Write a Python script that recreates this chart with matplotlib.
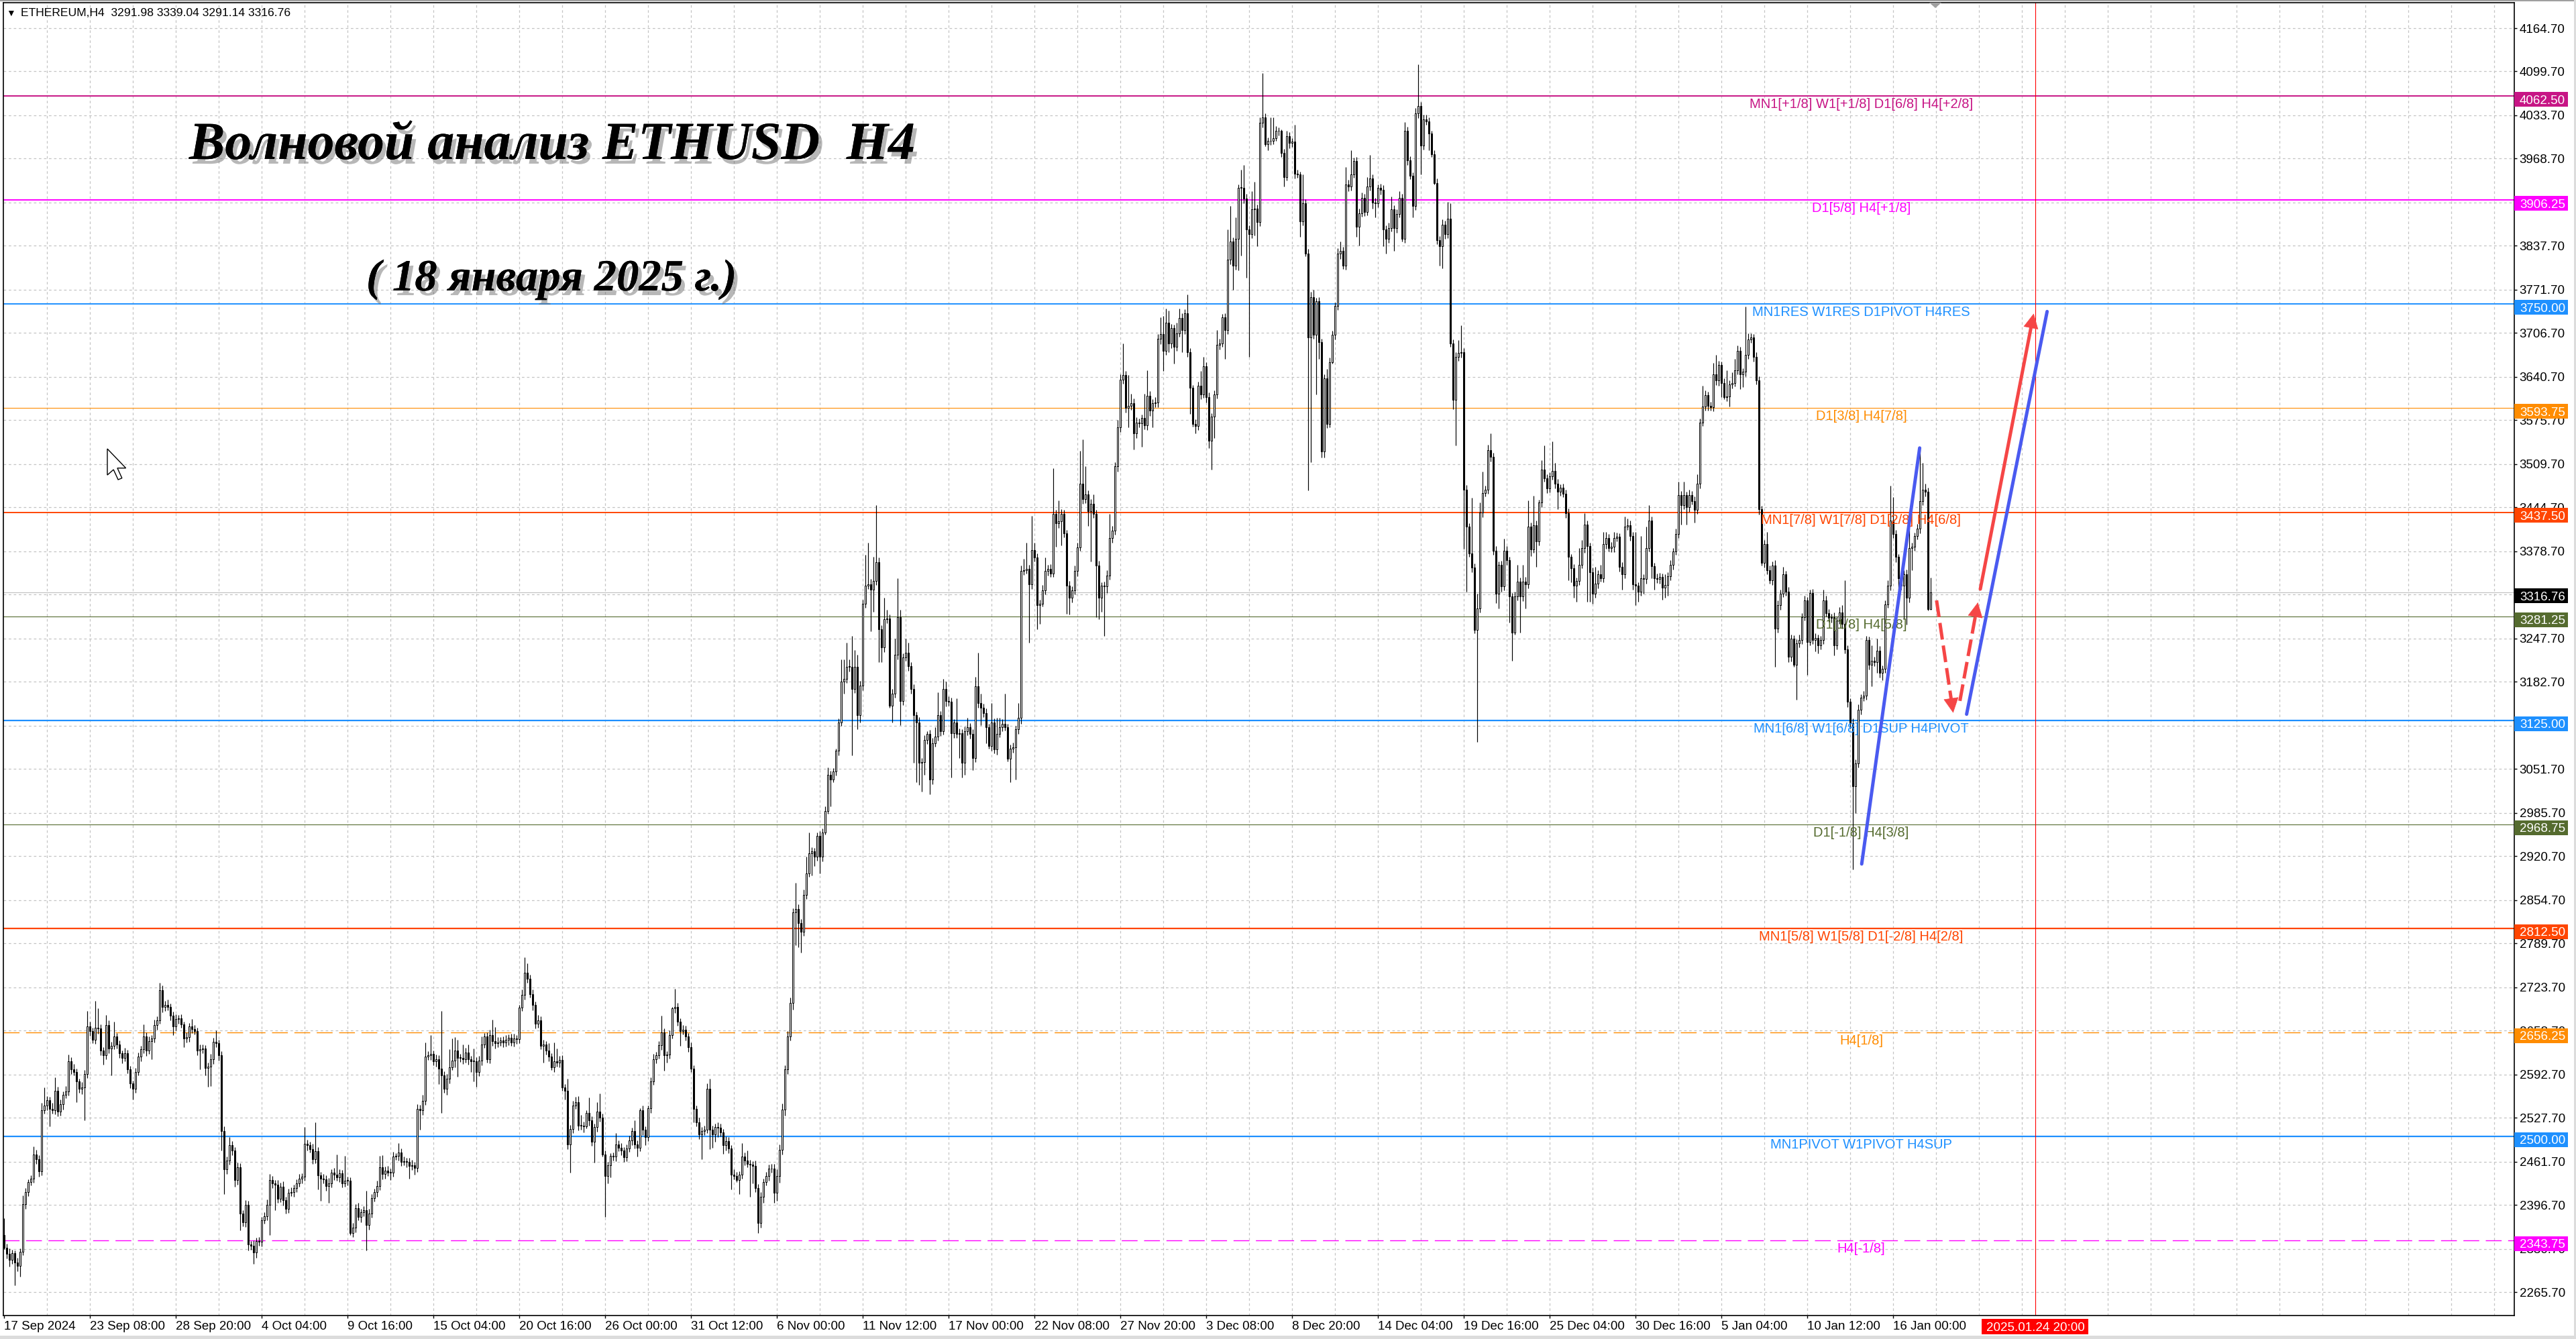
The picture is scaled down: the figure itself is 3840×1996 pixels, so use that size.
import numpy as np
import matplotlib
matplotlib.use('Agg')
import matplotlib.pyplot as plt
from matplotlib.patches import Rectangle, Polygon
from matplotlib import patheffects
from matplotlib.transforms import blended_transform_factory

plt.rcParams['font.family'] = ['Liberation Sans', 'DejaVu Sans']

# ETHEREUM H4 свечи: цена закрытия и длина теней (USD), 17 Sep 2024 - 18 Jan 2025
first_open = 2352
closes = [
    2332, 2323, 2314, 2324, 2310, 2305, 2326, 2398, 2416, 2431,
    2436, 2472, 2465, 2447, 2539, 2546, 2554, 2541, 2539, 2568,
    2537, 2548, 2562, 2567, 2613, 2600, 2596, 2582, 2571, 2573,
    2593, 2665, 2658, 2645, 2663, 2662, 2629, 2622, 2667, 2632,
    2636, 2650, 2638, 2625, 2618, 2625, 2600, 2579, 2571, 2596,
    2620, 2631, 2650, 2629, 2643, 2647, 2667, 2674, 2719, 2694,
    2697, 2694, 2681, 2665, 2676, 2677, 2668, 2647, 2649, 2665,
    2661, 2658, 2629, 2631, 2632, 2603, 2605, 2616, 2642, 2640,
    2622, 2508, 2450, 2463, 2487, 2479, 2434, 2453, 2384, 2371,
    2397, 2337, 2335, 2325, 2342, 2341, 2374, 2380, 2397, 2434,
    2429, 2427, 2406, 2424, 2404, 2391, 2415, 2416, 2422, 2429,
    2436, 2439, 2489, 2487, 2481, 2465, 2478, 2441, 2436, 2435,
    2425, 2429, 2445, 2442, 2438, 2444, 2429, 2433, 2433, 2355,
    2363, 2392, 2379, 2386, 2389, 2367, 2384, 2407, 2416, 2425,
    2453, 2443, 2448, 2445,
    2445, 2469, 2470, 2476, 2461, 2462, 2461, 2455, 2456, 2452,
    2541, 2539, 2553, 2620, 2622, 2624, 2613, 2616, 2601, 2591,
    2571, 2586, 2604, 2614, 2629, 2618, 2618, 2616, 2626, 2616,
    2613, 2613, 2596, 2614, 2638, 2650, 2616, 2652, 2643, 2640,
    2641, 2644, 2641, 2645, 2648, 2641, 2647, 2646, 2693, 2712,
    2746, 2737, 2713, 2697, 2669, 2674, 2636, 2638, 2629, 2620,
    2604, 2613, 2611, 2615, 2573, 2568, 2488, 2511, 2546, 2551,
    2516, 2516, 2515, 2535, 2524, 2492, 2514, 2537, 2528, 2472,
    2440, 2456, 2470, 2469, 2488, 2483, 2479, 2468, 2482, 2494,
    2508, 2488, 2483, 2539, 2510, 2499, 2542, 2582, 2616, 2622,
    2637, 2656, 2622, 2623, 2652, 2692, 2694, 2672, 2658, 2660,
    2650, 2634, 2601, 2541, 2521, 2503, 2508, 2510, 2571, 2510,
    2503, 2514, 2513, 2506, 2487, 2493, 2482, 2442, 2440, 2434,
    2442, 2469, 2463, 2458, 2457, 2455, 2422, 2370, 2409, 2431,
    2440, 2451, 2451, 2415,
    2440, 2480, 2540, 2600, 2650, 2700, 2836, 2841, 2820, 2807,
    2863, 2895, 2925, 2928, 2920, 2951, 2920, 2956, 2989, 3043,
    3036, 3048, 3079, 3122, 3183, 3187, 3205, 3205, 3172, 3205,
    3133, 3177, 3300, 3327, 3329, 3321, 3334, 3362, 3262, 3234,
    3277, 3278, 3147, 3165, 3223, 3280, 3154, 3219, 3226, 3206,
    3172, 3133, 3122, 3061, 3062, 3095, 3104, 3036, 3090, 3100,
    3133, 3108, 3172, 3154, 3153, 3105, 3122, 3104, 3105, 3061,
    3108, 3115, 3104, 3068, 3176, 3151, 3144, 3136, 3115, 3086,
    3122, 3081, 3104, 3115, 3120, 3115, 3067, 3082, 3084, 3111,
    3129, 3349, 3350, 3352, 3329, 3381, 3369, 3298, 3300, 3320,
    3349, 3352, 3345, 3435, 3421, 3424, 3435, 3406, 3327, 3309,
    3320, 3349, 3385, 3480, 3457, 3464, 3439, 3450, 3435, 3357,
    3309, 3327, 3326, 3342, 3399, 3410, 3507, 3565, 3637, 3644,
    3594, 3597, 3601, 3556, 3572, 3571, 3579, 3568, 3612, 3590,
    3601, 3602, 3698, 3705,
    3680, 3722, 3691, 3714, 3686, 3706, 3729, 3711, 3736, 3678,
    3624, 3570, 3567, 3628, 3614, 3657, 3610, 3545, 3581, 3614,
    3689, 3691, 3730, 3711, 3817, 3844, 3808, 3848, 3925, 3925,
    3909, 3862, 3855, 3893, 3894, 3873, 4023, 4031, 3990, 3995,
    3995, 3999, 4011, 4010, 3977, 3941, 4002, 3992, 3994, 3946,
    3945, 3874, 3902, 3826, 3700, 3761, 3704, 3754, 3693, 3529,
    3639, 3570, 3663, 3704, 3747, 3826, 3830, 3808, 3930, 3927,
    3945, 3965, 3866, 3887, 3910, 3889, 3927, 3939, 3903, 3902,
    3925, 3922, 3862, 3848, 3864, 3893, 3864, 3886, 3910, 3848,
    4010, 3966, 3943, 3898, 4037, 4048, 3988, 4028, 4025, 4006,
    3975, 3932, 3846, 3837, 3869, 3855, 3878, 3691, 3606, 3671,
    3677, 3678, 3471, 3416, 3376, 3354, 3261, 3293, 3437, 3466,
    3471, 3531, 3521, 3380, 3315, 3358, 3326, 3380, 3365, 3311,
    3257, 3311, 3333, 3311, 3333, 3329, 3416, 3382, 3418, 3394,
    3452, 3502, 3488, 3473,
    3491, 3500, 3480, 3468, 3474, 3465, 3436, 3370, 3353, 3327,
    3334, 3358, 3384, 3419, 3387, 3347, 3315, 3330, 3344, 3338,
    3390, 3399, 3384, 3386, 3399, 3401, 3355, 3344, 3416, 3418,
    3402, 3329, 3327, 3318, 3338, 3337, 3384, 3425, 3356, 3338,
    3337, 3340, 3324, 3328, 3341, 3358, 3379, 3405, 3463, 3448,
    3463, 3445, 3463, 3454, 3441, 3480, 3572, 3596, 3613, 3597,
    3595, 3645, 3636, 3659, 3632, 3610, 3611, 3630, 3632, 3651,
    3680, 3645, 3649, 3674, 3697, 3700, 3671, 3636, 3442, 3361,
    3390, 3350, 3335, 3357, 3263, 3298, 3315, 3344, 3318, 3220,
    3248, 3208, 3240, 3246, 3280, 3305, 3243, 3316, 3246, 3249,
    3237, 3246, 3305, 3286, 3279, 3280, 3237, 3275, 3287, 3270,
    3231, 3153, 3121, 3026, 3060, 3141, 3159, 3162, 3246, 3208,
    3214, 3212, 3229, 3196, 3202, 3299, 3327, 3425, 3405, 3370,
    3338, 3327, 3344, 3309, 3384, 3386, 3402, 3413, 3454, 3471,
    3468, 3291.98, 3316.76,
]
up_wick = [
    25, 6, 8, 5, 4, 7, 5, 13, 6, 4,
    5, 13, 8, 6, 11, 27, 6, 5, 9, 20,
    6, 7, 5, 8, 10, 6, 9, 5, 4, 8,
    6, 23, 7, 5, 40, 29, 6, 5, 15, 7,
    6, 22, 5, 6, 4, 8, 5, 6, 4, 7,
    6, 5, 18, 6, 7, 5, 8, 6, 11, 7,
    6, 8, 5, 6, 7, 5, 6, 4, 7, 5,
    11, 6, 5, 7, 6, 5, 6, 8, 6, 17,
    5, 6, 7, 6, 12, 6, 5, 7, 6, 5,
    7, 6, 5, 8, 6, 7, 5, 6, 8, 9,
    6, 5, 7, 6, 8, 5, 6, 7, 5, 6,
    7, 5, 25, 6, 5, 8, 43, 6, 5, 7,
    6, 8, 5, 7, 30, 6, 5, 37, 6, 5,
    7, 6, 8, 5, 6, 29, 7, 6, 5, 8,
    17, 18, 6, 7,
    6, 8, 5, 14, 6, 7, 5, 6, 8, 5,
    7, 6, 9, 21, 6, 28, 5, 7, 6, 87,
    6, 7, 27, 33, 20, 16, 6, 20, 7, 12,
    5, 19, 6, 7, 12, 5, 6, 8, 23, 21,
    8, 5, 6, 7, 5, 6, 7, 5, 4, 8,
    23, 14, 6, 7, 5, 8, 6, 7, 5, 11,
    5, 28, 19, 6, 7, 5, 18, 6, 7, 8,
    9, 16, 6, 4, 23, 6, 5, 14, 27, 6,
    7, 5, 5, 6, 17, 6, 7, 5, 6, 7,
    5, 16, 6, 3, 7, 5, 4, 6, 8, 5,
    6, 25, 6, 5, 7, 2, 27, 6, 5, 7,
    6, 5, 7, 6, 5, 7, 6, 6, 8, 15,
    6, 5, 7, 6, 5, 7, 6, 5, 8, 6,
    5, 21, 7, 16, 6, 5, 8, 6, 7, 5,
    6, 6, 7, 7,
    10, 8, 9, 7, 8, 8, 6, 40, 7, 6,
    8, 25, 31, 6, 5, 5, 7, 6, 7, 11,
    6, 5, 3, 6, 33, 29, 36, 11, 47, 25,
    18, 7, 6, 47, 63, 8, 36, 86, 7, 6,
    32, 13, 6, 7, 25, 58, 11, 6, 22, 15,
    6, 7, 5, 8, 6, 7, 4, 6, 8, 15,
    34, 6, 15, 11, 7, 6, 5, 36, 7, 6,
    8, 14, 6, 7, 14, 50, 14, 6, 7, 5,
    29, 6, 25, 14, 7, 45, 5, 6, 7, 6,
    22, 8, 17, 40, 6, 51, 11, 7, 6, 8,
    20, 6, 7, 69, 6, 31, 7, 6, 5, 7,
    6, 8, 7, 50, 67, 43, 6, 7, 14, 6,
    7, 5, 6, 8, 36, 7, 6, 11, 8, 47,
    6, 47, 14, 7, 8, 6, 5, 36, 39, 7,
    6, 8, 7, 25,
    27, 21, 18, 6, 5, 16, 14, 7, 6, 29,
    6, 5, 7, 6, 22, 14, 6, 7, 5, 6,
    22, 7, 5, 6, 45, 54, 6, 32, 5, 27,
    34, 7, 6, 27, 40, 6, 8, 66, 6, 5,
    36, 32, 7, 5, 3, 6, 8, 6, 5, 26,
    6, 4, 43, 6, 7, 8, 11, 6, 7, 5,
    6, 14, 7, 6, 5, 8, 14, 6, 26, 7,
    36, 5, 6, 7, 8, 6, 14, 35, 6, 7,
    5, 6, 7, 6, 8, 19, 6, 7, 10, 6,
    14, 7, 6, 5, 8, 62, 6, 7, 7, 6,
    5, 6, 7, 6, 8, 6, 26, 24, 6, 7,
    19, 40, 6, 7, 5, 83, 6, 22, 15, 32,
    6, 8, 25, 6, 7, 5, 6, 18, 7, 6,
    5, 7, 25, 6, 25, 7, 39, 6, 44, 7,
    4, 14, 36, 6,
    6, 44, 12, 7, 5, 6, 6, 7, 5, 6,
    5, 26, 12, 17, 6, 5, 7, 25, 6, 14,
    18, 9, 6, 7, 9, 6, 5, 7, 15, 10,
    7, 6, 79, 5, 64, 6, 32, 23, 6, 5,
    7, 6, 5, 16, 6, 7, 5, 8, 20, 6,
    20, 5, 8, 6, 7, 14, 6, 32, 7, 5,
    6, 17, 29, 6, 5, 7, 40, 6, 16, 17,
    8, 6, 5, 72, 9, 6, 5, 7, 6, 5,
    6, 18, 7, 6, 8, 7, 6, 11, 5, 7,
    6, 5, 7, 8, 6, 7, 5, 5, 6, 7,
    5, 6, 16, 7, 6, 5, 7, 6, 8, 11,
    65, 6, 5, 7, 6, 8, 5, 7, 6, 5,
    23, 6, 19, 7, 5, 6, 8, 52, 35, 6,
    5, 7, 6, 7, 29, 6, 5, 7, 81, 41,
    9, 6, 22.28,
]
dn_wick = [
    2, 7, 10, 6, 34, 8, 16, 5, 7, 6,
    5, 6, 7, 8, 6, 5, 7, 26, 5, 6,
    7, 6, 8, 5, 6, 7, 5, 31, 6, 8,
    49, 6, 7, 5, 6, 8, 7, 14, 6, 7,
    41, 5, 6, 7, 8, 5, 6, 7, 16, 6,
    5, 7, 6, 8, 5, 27, 6, 7, 5, 8,
    6, 5, 7, 13, 6, 7, 5, 13, 6, 7,
    6, 5, 7, 29, 6, 12, 29, 30, 7, 6,
    8, 29, 37, 7, 6, 8, 10, 7, 25, 6,
    7, 9, 6, 17, 8, 6, 7, 5, 6, 45,
    7, 38, 6, 5, 8, 7, 6, 5, 7, 6,
    5, 7, 6, 8, 5, 7, 6, 21, 33, 6,
    7, 25, 6, 8, 5, 7, 6, 5, 7, 3,
    6, 7, 5, 8, 6, 39, 7, 6, 5, 7,
    6, 8, 7, 5,
    11, 6, 5, 7, 6, 5, 8, 19, 6, 10,
    6, 29, 7, 6, 5, 7, 6, 8, 23, 56,
    6, 9, 7, 5, 10, 29, 6, 7, 5, 8,
    17, 31, 22, 6, 7, 5, 5, 6, 7, 8,
    6, 5, 7, 6, 8, 5, 6, 7, 6, 5,
    7, 6, 5, 8, 7, 6, 5, 25, 6, 7,
    5, 8, 6, 7, 5, 13, 7, 43, 6, 5,
    7, 6, 9, 3, 8, 6, 32, 7, 6, 3,
    61, 11, 18, 6, 7, 5, 8, 7, 6, 5,
    7, 6, 14, 5, 8, 12, 6, 7, 5, 6,
    5, 7, 24, 11, 6, 5, 7, 6, 22, 5,
    6, 7, 5, 20, 6, 7, 38, 6, 5, 29,
    20, 11, 14, 6, 13, 8, 7, 22, 5, 3,
    21, 6, 7, 5, 48, 26, 6, 15, 7, 9,
    5, 7, 6, 15,
    12, 10, 8, 9, 7, 6, 10, 49, 36, 31,
    6, 7, 5, 33, 14, 6, 25, 7, 3, 5,
    40, 4, 6, 7, 5, 18, 6, 7, 100, 6,
    22, 11, 7, 6, 5, 62, 33, 6, 50, 22,
    7, 6, 3, 25, 6, 7, 36, 6, 5, 7,
    7, 72, 90, 33, 43, 19, 6, 22, 7, 5,
    6, 7, 5, 8, 6, 66, 7, 6, 36, 22,
    18, 6, 7, 18, 6, 7, 26, 6, 25, 4,
    7, 6, 8, 5, 7, 6, 4, 35, 6, 48,
    7, 9, 6, 5, 88, 7, 6, 36, 28, 4,
    6, 7, 5, 5, 35, 7, 36, 6, 42, 25,
    7, 6, 8, 5, 7, 6, 22, 76, 6, 77,
    32, 21, 74, 10, 6, 7, 6, 8, 7, 6,
    7, 29, 6, 24, 7, 6, 35, 6, 7, 8,
    25, 6, 7, 8,
    30, 6, 13, 7, 25, 6, 5, 33, 6, 7,
    39, 4, 11, 6, 7, 5, 8, 11, 43, 32,
    6, 7, 5, 43, 6, 7, 36, 6, 47, 102,
    7, 72, 184, 6, 40, 36, 6, 7, 3, 9,
    6, 5, 4, 7, 6, 14, 5, 8, 6, 7,
    5, 23, 6, 4, 230, 187, 6, 90, 25, 9,
    9, 6, 5, 2, 7, 6, 8, 5, 6, 7,
    6, 5, 15, 28, 6, 7, 5, 6, 9, 22,
    6, 7, 25, 22, 6, 5, 34, 7, 6, 4,
    6, 7, 5, 18, 6, 7, 43, 6, 5, 25,
    4, 2, 6, 29, 33, 7, 6, 5, 14, 68,
    6, 7, 88, 98, 6, 7, 5, 169, 6, 7,
    5, 6, 7, 6, 14, 22, 8, 6, 7, 39,
    43, 3, 6, 54, 7, 36, 6, 10, 5, 39,
    6, 7, 5, 7,
    6, 5, 7, 26, 6, 5, 7, 35, 21, 18,
    24, 6, 5, 7, 84, 44, 15, 6, 7, 5,
    6, 7, 5, 6, 8, 5, 7, 23, 6, 5,
    7, 8, 29, 15, 6, 22, 7, 5, 18, 17,
    6, 7, 18, 15, 16, 6, 7, 5, 6, 29,
    6, 26, 7, 5, 19, 6, 7, 5, 6, 7,
    5, 6, 7, 8, 22, 3, 6, 15, 7, 5,
    6, 23, 20, 7, 6, 5, 7, 6, 8, 4,
    7, 6, 5, 7, 58, 6, 7, 5, 6, 8,
    7, 3, 52, 6, 7, 5, 50, 6, 7, 18,
    12, 6, 7, 5, 6, 7, 15, 6, 5, 7,
    6, 8, 9, 125, 41, 6, 7, 5, 6, 7,
    32, 6, 16, 7, 11, 6, 5, 7, 6, 8,
    17, 6, 50, 40, 7, 34, 6, 5, 7, 6,
    7, 2, 0.84,
]

time_labels = ['17 Sep 2024', '23 Sep 08:00', '28 Sep 20:00', '4 Oct 04:00', '9 Oct 16:00',
               '15 Oct 04:00', '20 Oct 16:00', '26 Oct 00:00', '31 Oct 12:00', '6 Nov 00:00',
               '11 Nov 12:00', '17 Nov 00:00', '22 Nov 08:00', '27 Nov 20:00', '3 Dec 08:00',
               '8 Dec 20:00', '14 Dec 04:00', '19 Dec 16:00', '25 Dec 04:00', '30 Dec 16:00',
               '5 Jan 04:00', '10 Jan 12:00', '16 Jan 00:00']
bars_per_label = 32
future_bar = 757
future_label = '2025.01.24 20:00'

price_ticks = [4164.70, 4099.70, 4033.70, 3968.70, 3902.70, 3837.70, 3771.70, 3706.70,
               3640.70, 3575.70, 3509.70, 3444.70, 3378.70, 3313.70, 3247.70, 3182.70,
               3116.70, 3051.70, 2985.70, 2920.70, 2854.70, 2789.70, 2723.70, 2658.70,
               2592.70, 2527.70, 2461.70, 2396.70, 2330.70, 2265.70]

# уровни Мюррея
level_prices = [4062.50, 3906.25, 3750.00, 3593.75, 3437.50, 3281.25,
                3125.00, 2968.75, 2812.50, 2656.25, 2500.00, 2343.75]
level_texts = ['MN1[+1/8] W1[+1/8] D1[6/8] H4[+2/8]', 'D1[5/8] H4[+1/8]',
               'MN1RES W1RES D1PIVOT H4RES', 'D1[3/8] H4[7/8]',
               'MN1[7/8] W1[7/8] D1[2/8] H4[6/8]', 'D1[1/8] H4[5/8]',
               'MN1[6/8] W1[6/8] D1SUP H4PIVOT', 'D1[-1/8] H4[3/8]',
               'MN1[5/8] W1[5/8] D1[-2/8] H4[2/8]', 'H4[1/8]',
               'MN1PIVOT W1PIVOT H4SUP', 'H4[-1/8]']
level_colors = ['#C71585', '#FF00FF', '#1E90FF', '#FF8C00', '#FF4500', '#556B2F',
                '#1E90FF', '#556B2F', '#FF4500', '#FF8C00', '#1E90FF', '#FF00FF']
level_lw = [1.4, 1.4, 1.4, 0.8, 1.4, 0.8, 1.6, 0.8, 1.6, 1.0, 1.6, 1.0]
level_dashed = [False] * 9 + [True, False, True]
label_bar = 692.1

# разметка волн
blue1_x, blue1_y = [692.3, 713.9], [2909, 3534]
blue2_x, blue2_y = [731.4, 761.4], [3134, 3739]
red_down_x, red_down_y = [720.2, 726.4], [3305, 3136]
red_up_x, red_up_y = [728.9, 735.6], [3154, 3302]
red_main_x, red_main_y = [736.5, 756.4], [3322, 3736]

n = min(len(closes), len(up_wick), len(dn_wick))
c = np.array(closes[:n], dtype=float)
o = np.concatenate([[first_open], c[:-1]])
top = np.maximum(o, c)
bot = np.minimum(o, c)
hi = top + np.array(up_wick[:n], dtype=float)
lo = bot - np.array(dn_wick[:n], dtype=float)
x = np.arange(n)

W, H = 3840, 1996
fig = plt.figure(figsize=(W / 100, H / 100), dpi=100)
ax = fig.add_axes([5 / W, 1 - 1961 / H, (3748 - 5) / W, (1961 - 4) / H])
ax.set_xlim(-0.25, 935.5)
ax.set_ylim(2230.6, 4203.0)

grid_kw = dict(color='#C4C4C4', lw=0.9, ls=(0, (3, 3)), zorder=0)
for p in price_ticks:
    ax.axhline(p, **grid_kw)
for g in range(16, 936, 16):
    ax.axvline(g, **grid_kw)

for p, col, lw, dsh in zip(level_prices, level_colors, level_lw, level_dashed):
    ax.axhline(p, color=col, lw=lw, ls=(0, (17, 7)) if dsh else '-', zorder=1)
ax.axhline(c[-1], color='#C0C0C0', lw=0.8, zorder=1)
ax.axvline(future_bar, color='#FF0000', lw=0.8, zorder=1)

# свечи
ax.vlines(x, lo, hi, color='black', lw=0.85, zorder=3)
bull = c >= o
ax.bar(x, np.maximum(top - bot, 0.8), bottom=bot, width=0.72,
       color=np.where(bull, 'white', 'black'), edgecolor='black', linewidth=0.75, zorder=4)

for p, txt, col in zip(level_prices, level_texts, level_colors):
    ax.text(label_bar, p - 3, txt, color=col, fontsize=14.5, ha='center', va='top', zorder=5)

# волновая разметка
ax.plot(blue1_x, blue1_y, color='#4A5AF0', lw=3.6, solid_capstyle='round', zorder=6)
ax.plot(blue2_x, blue2_y, color='#4A5AF0', lw=3.6, solid_capstyle='round', zorder=6)
red = '#F54646'
for xs, ys, dashed in [(red_down_x, red_down_y, True), (red_up_x, red_up_y, True),
                       (red_main_x, red_main_y, False)]:
    dx, dy = xs[1] - xs[0], ys[1] - ys[0]
    ln = np.hypot(dx * 4.0, dy * 0.9922)
    k = 16.0 / ln
    ax.plot([xs[0], xs[1] - dx * k], [ys[0], ys[1] - dy * k], color=red, lw=3.6,
            ls=(0, (5, 1.8)) if dashed else '-', solid_capstyle='round',
            dash_capstyle='butt', zorder=6)
    ax.annotate('', xy=(xs[1], ys[1]), xytext=(xs[1] - dx * k * 1.6, ys[1] - dy * k * 1.6),
                arrowprops=dict(arrowstyle='-|>,head_length=0.75,head_width=0.38',
                                mutation_scale=20, color=red, lw=0.5, shrinkA=0, shrinkB=0),
                zorder=7)

# оси
for s in ax.spines.values():
    s.set_color('black')
    s.set_linewidth(1.2)
ax.yaxis.tick_right()
ax.set_yticks(price_ticks)
ax.set_yticklabels([f'{p:.2f}' for p in price_ticks])
ax.set_xticks([k * bars_per_label for k in range(len(time_labels))])
ax.set_xticklabels(time_labels, ha='left')
ax.tick_params(axis='both', direction='out', length=3, width=1, pad=2.5,
               labelsize=13.5, colors='black')

trans = blended_transform_factory(ax.transAxes, ax.transData)
box_w = 80 / 3743
for p, col in list(zip(level_prices, level_colors)) + [(c[-1], 'black')]:
    yc = p - 5
    ax.add_patch(Rectangle((1.0, yc - 11.1), box_w, 22.2, transform=trans, facecolor=col,
                           edgecolor='none', clip_on=False, zorder=8))
    ax.text(1.0 + 8 / 3743, yc, f'{p:.2f}', transform=trans, color='white', fontsize=13.5,
            ha='left', va='center_baseline', clip_on=False, zorder=9)

transx = blended_transform_factory(ax.transData, ax.transAxes)
ax.add_patch(Rectangle((future_bar - 19.9, -0.0141), 39.75, 0.0118, transform=transx,
                       facecolor='#FF0000', edgecolor='none', clip_on=False, zorder=8))
ax.text(future_bar, -0.0082, future_label, transform=transx, color='white', fontsize=13.5,
        ha='center', va='center_baseline', clip_on=False, zorder=9)

# заголовок окна
fig.text(9 / W, 1 - 20 / H, '▼', fontsize=10, va='center', ha='left')
fig.text(31 / W, 1 - 20 / H,
         f'ETHEREUM,H4  {o[-1]:.2f} {hi[-1]:.2f} {lo[-1]:.2f} {c[-1]:.2f}',
         fontsize=12.6, va='center', ha='left')

shadow = [patheffects.withSimplePatchShadow(offset=(4, -5), shadow_rgbFace='#606060', alpha=0.45),
          patheffects.Normal()]
fig.text(282 / W, 1 - 237 / H, 'Волновой анализ ETHUSD  H4', fontsize=57.5,
         family=['Liberation Serif', 'DejaVu Serif'], style='italic', weight='bold',
         va='baseline', ha='left', path_effects=shadow)
fig.text(546 / W, 1 - 433 / H, '( 18 января 2025 г.)', fontsize=48,
         family=['Liberation Serif', 'DejaVu Serif'], style='italic', weight='bold',
         va='baseline', ha='left', path_effects=shadow)

# курсор и рамка окна
cur = np.array([[0, 0], [0, 34], [8, 27], [14, 40], [19, 38], [13, 25], [24, 25]]) * 1.15
cur = cur + [160, 669]
fig.add_artist(Polygon(np.column_stack([cur[:, 0] / W, 1 - cur[:, 1] / H]), closed=True,
                       facecolor='white', edgecolor='black', lw=1.0, transform=fig.transFigure))
tri = np.array([[2876, 4], [2894, 4], [2885, 12]])
fig.add_artist(Polygon(np.column_stack([tri[:, 0] / W, 1 - tri[:, 1] / H]), closed=True,
                       facecolor='#A0A0A0', edgecolor='none', transform=fig.transFigure))
fig.add_artist(Rectangle((0, 1 - 2 / H), 1, 2 / H, facecolor='#A0A0A0', edgecolor='none',
                         transform=fig.transFigure))
fig.add_artist(Rectangle((3837 / W, 0), 3 / W, 1, facecolor='#DCDCDC', edgecolor='none',
                         transform=fig.transFigure))
fig.add_artist(Rectangle((0, 0), 1, 5 / H, facecolor='#DCDCDC', edgecolor='none',
                         transform=fig.transFigure))

fig.savefig('out.png', dpi=100)
